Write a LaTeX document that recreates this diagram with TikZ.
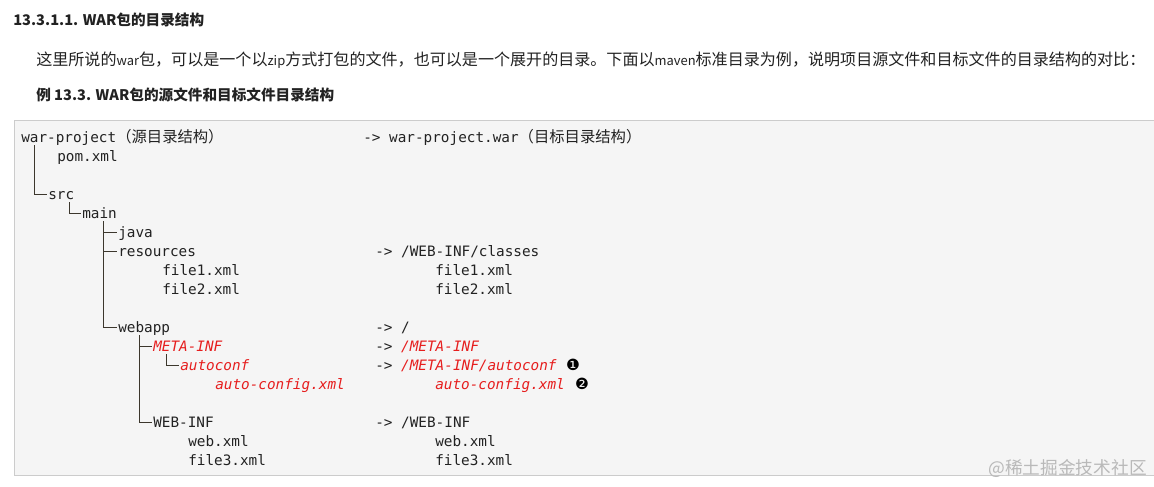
\documentclass[tikz,border=0pt]{standalone}
\usepackage{fontspec}
\setmainfont{Noto Sans CJK SC}
\newfontfamily\cjk{Noto Sans CJK SC}
\newfontfamily\monof{DejaVu Sans Mono}
\newfontfamily\symf{DejaVu Sans}
\definecolor{warred}{RGB}{230,30,30}
\definecolor{boxfill}{RGB}{245,245,245}
\definecolor{boxline}{RGB}{204,204,204}
\definecolor{treeline}{RGB}{60,55,45}
\definecolor{inkcol}{RGB}{34,34,34}
\definecolor{wmgray}{RGB}{185,185,185}
\newcommand{\codefont}{\monof\fontsize{10.2pt}{12pt}\selectfont}
\newcommand{\cjkcode}[1]{{\cjk\fontsize{10.9pt}{12pt}\selectfont #1}}
\newcommand{\latsmall}[1]{{\fontsize{9.2pt}{10pt}\selectfont #1}}
\newcommand{\redit}[1]{\textcolor{warred}{\itshape #1}}
\begin{document}
\begin{tikzpicture}[x=0.025cm, y=-0.025cm,
    code/.style={anchor=base west, inner sep=0pt, font=\codefont, text=inkcol,
      text height=0.325cm, text depth=0.075cm},
    redcode/.style={text=warred, font=\codefont\itshape},
    head/.style={anchor=base west, inner sep=0pt, text=inkcol,
      font=\cjk\bfseries\fontsize{10.4pt}{12pt}\selectfont},
    body/.style={anchor=base west, inner sep=0pt, text=inkcol,
      font=\cjk\fontsize{11.42pt}{14pt}\selectfont},
    num/.style={anchor=center, inner sep=0pt, font=\symf\fontsize{11pt}{12pt}\selectfont},
    tree/.style={draw=treeline, line width=0.7pt, shorten >=0.025cm}]
  \useasboundingbox (0,0) rectangle (1154,486);
  \fill[white] (0,0) rectangle (1154,486);
  \fill[boxfill] (14,120) rectangle (1154,475);
  \draw[boxline, line width=0.7pt] (1154,120) -- (14,120) -- (14,475) -- (1154,475);

  \node[head] (title) at (13,26) {13.3.1.1. WAR包的目录结构};
  \node[body] (intro) at (36,65) {这里所说的\latsmall{war}包，可以是一个以\latsmall{zip}方式打包的文件，也可以是一个展开的目录。下面以\latsmall{maven}标准目录为例，说明项目源文件和目标文件的目录结构的对比：};
  \node[head] (example) at (36,100) {例 13.3. WAR包的源文件和目标文件目录结构};

  \node[code] (root) at (21,142) {war-project\cjkcode{（源目录结构）}};
  \node[code] (pom) at (57,161) {pom.xml};
  \node[code] (src) at (48,199) {src};
  \node[code] (main) at (82,218) {main};
  \node[code] (java) at (118,237) {java};
  \node[code] (res) at (118,256) {resources};
  \node[code] (resA) at (162,275) {file1.xml};
  \node[code] (resB) at (162,294) {file2.xml};
  \node[code] (webapp) at (118,332) {webapp};
  \node[code, redcode] (meta) at (153,351) {META-INF};
  \node[code, redcode] (autoconf) at (180,370) {autoconf};
  \node[code, redcode] (autocfg) at (215,389) {auto-config.xml};
  \node[code] (webinf) at (153,427) {WEB-INF};
  \node[code] (webxml) at (188,446) {web.xml};
  \node[code] (fileC) at (188,465) {file3.xml};

  \node[code] (warT) at (363,142) {-> war-project.war\cjkcode{（目标目录结构）}};
  \node[code] (classes) at (375,256) {-> /WEB-INF/classes};
  \node[code] (classesA) at (435,275) {file1.xml};
  \node[code] (classesB) at (435,294) {file2.xml};
  \node[code] (webroot) at (375,332) {-> /};
  \node[code] (metaT) at (375,351) {-> \redit{/META-INF}};
  \node[code] (autoconfT) at (375,370) {-> \redit{/META-INF/autoconf}};
  \node[code, redcode] (autocfgT) at (435,389) {auto-config.xml};
  \node[code] (webinfT) at (375,427) {-> /WEB-INF};
  \node[code] (webxmlT) at (435,446) {web.xml};
  \node[code] (fileCT) at (435,465) {file3.xml};
  \node[num] (noteA) at (573,365) {❶};
  \node[num] (noteB) at (582,384) {❷};

  \coordinate (rootbar) at ([xshift=0.325cm]root.south west);
  \coordinate (srcbar) at ([xshift=0.54cm]src.south west);
  \coordinate (mainbar) at ([xshift=0.54cm]main.south west);
  \coordinate (webappbar) at ([xshift=0.54cm]webapp.south west);
  \coordinate (metabar) at ([xshift=0.325cm]meta.south west);
  \draw[tree] (rootbar) |- (src.west);
  \draw[tree] (srcbar) |- (main.west);
  \draw[tree] (mainbar |- java.west) -- (java.west);
  \draw[tree] (mainbar |- res.west) -- (res.west);
  \draw[tree] (mainbar) |- (webapp.west);
  \draw[tree] (webappbar |- meta.west) -- (meta.west);
  \draw[tree] (webappbar) |- (webinf.west);
  \draw[tree] (metabar) |- (autoconf.west);

  \node[anchor=base west, inner sep=0pt, text=wmgray,
    font=\cjk\fontsize{12.6pt}{15pt}\selectfont] (wm) at (988,474) {@稀土掘金技术社区};
\end{tikzpicture}
\end{document}
